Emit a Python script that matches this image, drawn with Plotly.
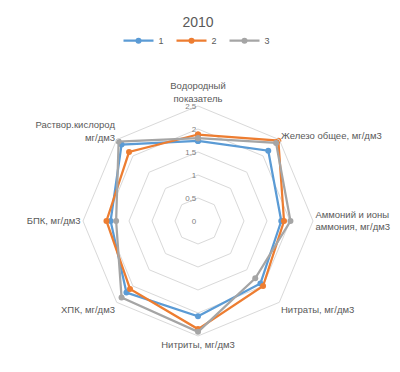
import plotly.graph_objects as go

categories = [
    "Водородный<br>показатель",
    "Железо общее, мг/дм3",
    "Аммоний и ионы<br>аммония, мг/дм3",
    "Нитраты, мг/дм3",
    "Нитриты, мг/дм3",
    "ХПК, мг/дм3",
    "БПК, мг/дм3",
    "Раствор.кислород<br>мг/дм3",
]
series_names = ["1", "2", "3"]
values_1 = [1.74, 2.16, 1.81, 1.92, 2.07, 2.20, 1.90, 2.35]
values_2 = [1.88, 2.47, 1.87, 2.00, 2.35, 2.09, 1.99, 2.12]
values_3 = [1.80, 2.40, 2.01, 1.76, 2.41, 2.35, 1.78, 2.44]
radial_ticks = [0, 0.5, 1, 1.5, 2, 2.5]

colors = ["#5b9bd5", "#ed7d31", "#a5a5a5"]
font_family = "Liberation Sans, Roboto, sans-serif"

fig = go.Figure()
for name, vals, col in zip(series_names, [values_1, values_2, values_3], colors):
    fig.add_trace(go.Scatterpolar(
        r=vals + vals[:1],
        theta=categories + categories[:1],
        mode="lines+markers",
        name=name,
        line=dict(color=col, width=2.25),
        marker=dict(color=col, size=6),
    ))

fig.update_layout(
    width=400, height=372,
    margin=dict(l=0, r=0, t=0, b=0),
    paper_bgcolor="white",
    plot_bgcolor="white",
    separators=", ",
    font=dict(family=font_family, color="#595959", size=10),
    title=dict(text="2010", x=0.475, xanchor="center", y=0.962, yanchor="middle",
               font=dict(size=14, color="#595959", family=font_family)),
    legend=dict(orientation="h", x=0.475, xanchor="center", y=0.912, yanchor="middle",
                font=dict(size=9, color="#595959"), entrywidth=8, entrywidthmode="pixels",
                tracegroupgap=0, bgcolor="rgba(0,0,0,0)"),
    polar=dict(
        domain=dict(x=[0.1875, 0.7625], y=[0.1183, 0.7366]),
        bgcolor="white",
        gridshape="linear",
        radialaxis=dict(
            range=[0, 2.5], tickvals=radial_ticks, angle=90, side="counterclockwise",
            showline=False, gridcolor="#d9d9d9", gridwidth=1, ticks="",
            tickfont=dict(size=8, color="#7f7f7f"), tickangle=90,
        ),
        angularaxis=dict(
            direction="clockwise", rotation=90,
            showgrid=False, showline=True, linecolor="#d9d9d9", linewidth=1,
            ticks="", tickfont=dict(size=9.5, color="#595959"),
        ),
    ),
    shapes=[dict(type="line", xref="paper", yref="paper", x0=0, x1=1, y0=0.002, y1=0.002,
                 line=dict(color="#d9d9d9", width=1))],
)

fig.write_html("out.html")
